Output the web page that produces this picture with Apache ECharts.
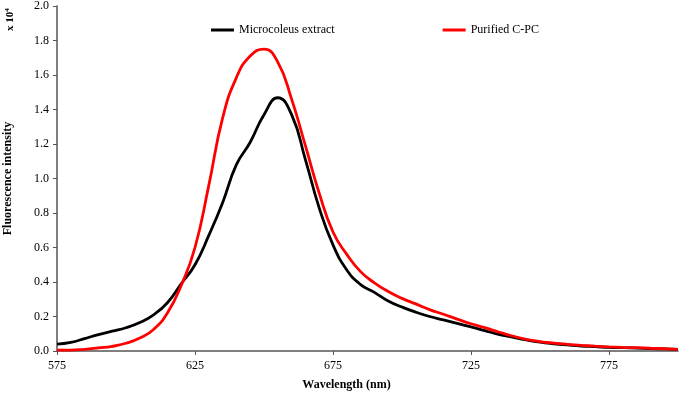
<!DOCTYPE html>
<html>
<head>
<meta charset="utf-8">
<script src="https://cdn.jsdelivr.net/npm/echarts@6/dist/echarts.min.js"></script>
<style>
  html, body { margin: 0; padding: 0; background: #fff; }
</style>
</head>
<body>
<div id="chart" style="width: 680px;height:394px;"></div>
<script>
// 数据：波长 (nm) 与荧光强度 (x 10^4)
var wavelength = [575, 580, 585, 590, 595, 600, 605, 610, 615, 620, 625, 630, 635, 640, 645, 650, 655, 660, 665, 670, 675, 680, 685, 690, 695, 700, 705, 710, 715, 720, 725, 730, 735, 740, 745, 750, 755, 760, 765, 770, 775, 780, 785, 790, 795, 800];
var extractVal = [0.04, 0.05, 0.072, 0.095, 0.115, 0.135, 0.165, 0.21, 0.28, 0.39, 0.5, 0.67, 0.86, 1.08, 1.21, 1.37, 1.468, 1.37, 1.11, 0.83, 0.615, 0.47, 0.385, 0.34, 0.29, 0.255, 0.225, 0.2, 0.18, 0.16, 0.14, 0.118, 0.097, 0.08, 0.064, 0.051, 0.042, 0.035, 0.029, 0.025, 0.021, 0.019, 0.017, 0.014, 0.012, 0.01];
var cpcVal = [0.005, 0.005, 0.01, 0.018, 0.027, 0.045, 0.075, 0.125, 0.22, 0.38, 0.6, 0.96, 1.35, 1.585, 1.71, 1.75, 1.675, 1.46, 1.19, 0.915, 0.69, 0.56, 0.46, 0.395, 0.345, 0.305, 0.273, 0.24, 0.213, 0.185, 0.158, 0.135, 0.11, 0.087, 0.068, 0.055, 0.046, 0.039, 0.033, 0.028, 0.024, 0.021, 0.019, 0.016, 0.013, 0.01];

var xTicks = [575, 625, 675, 725, 775];
var seriesNames = ["Microcoleus extract", "Purified C-PC"];

var font = "Liberation Serif";
var axisColor = "#555";

function pairs(xs, ys) {
  return xs.map(function(x, i) {
    return [x, ys[i]];
  });
}

var myChart = echarts.init(document.getElementById("chart"));
var option = {
  animation: false,
  grid: {
    left: 57,
    right: 2,
    top: 6,
    bottom: 43,
    containLabel: false,
    outerBoundsMode: "none"
  },
  legend: {
    left: 206,
    top: 19,
    itemGap: 108,
    itemWidth: 23,
    itemHeight: 3,
    icon: "rect",
    textStyle: {
      fontFamily: font,
      fontSize: 12,
      color: "#000"
    },
    data: seriesNames
  },
  xAxis: {
    type: "value",
    min: 575,
    max: 800,
    name: "Wavelength (nm)",
    nameLocation: "middle",
    nameGap: 28,
    nameTextStyle: {
      fontFamily: font,
      fontWeight: "bold",
      fontSize: 12,
      color: "#000",
      padding: [0, 42, 0, 0]
    },
    axisLine: {
      lineStyle: { color: axisColor, width: 1.5 }
    },
    axisTick: {
      show: true,
      length: 4,
      customValues: xTicks,
      lineStyle: { color: axisColor }
    },
    axisLabel: {
      customValues: xTicks,
      margin: 9,
      fontFamily: font,
      fontSize: 12,
      color: "#000"
    },
    splitLine: { show: false }
  },
  yAxis: {
    type: "value",
    min: 0,
    max: 2,
    interval: 0.2,
    name: "Fluorescence intensity",
    nameLocation: "middle",
    nameGap: 43,
    nameTextStyle: {
      fontFamily: font,
      fontWeight: "bold",
      fontSize: 12,
      color: "#000"
    },
    axisLine: {
      show: true,
      lineStyle: { color: axisColor, width: 1.5 }
    },
    axisTick: {
      show: true,
      length: 4,
      lineStyle: { color: axisColor }
    },
    axisLabel: {
      margin: 8,
      fontFamily: font,
      fontSize: 12,
      color: "#000",
      formatter: function(v) {
        return v.toFixed(1);
      }
    },
    splitLine: { show: false }
  },
  graphic: [
    {
      // 左上角单位 x 10^4
      type: "text",
      x: 4,
      y: 31,
      rotation: Math.PI / 2,
      style: {
        text: "x 10{sup|4}",
        fontFamily: font,
        fontWeight: "bold",
        fontSize: 11,
        fill: "#000",
        rich: {
          sup: {
            fontFamily: font,
            fontWeight: "bold",
            fontSize: 7,
            verticalAlign: "top",
            padding: [0, 0, 5, 0]
          }
        }
      }
    }
  ],
  series: [
    {
      name: seriesNames[0],
      type: "line",
      smooth: true,
      showSymbol: false,
      lineStyle: { color: "#000", width: 2.8 },
      itemStyle: { color: "#000" },
      data: pairs(wavelength, extractVal)
    },
    {
      name: seriesNames[1],
      type: "line",
      smooth: true,
      showSymbol: false,
      lineStyle: { color: "#ff0000", width: 2.8 },
      itemStyle: { color: "#ff0000" },
      data: pairs(wavelength, cpcVal)
    }
  ]
};
myChart.setOption(option);
</script>
</body>
</html>
